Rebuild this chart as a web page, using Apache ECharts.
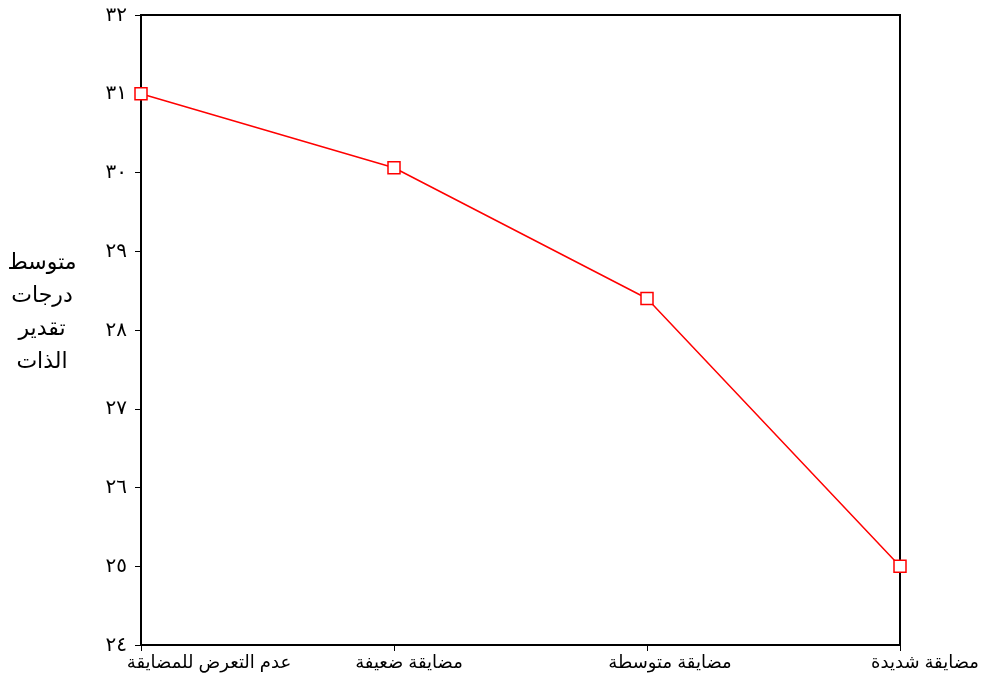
<!DOCTYPE html>
<html>
<head>
<meta charset="utf-8">
<script src="https://cdn.jsdelivr.net/npm/echarts@6/dist/echarts.min.js"></script>
<style>
html,body{margin:0;padding:0;background:#fff;}
#chart{width:986px;height:680px;}
</style>
</head>
<body>
<div id="chart"></div>
<script>
// ---- data ----
var categories = ['عدم التعرض للمضايقة', 'مضايقة ضعيفة', 'مضايقة متوسطة', 'مضايقة شديدة'];
var meanScores = [31.0, 30.06, 28.40, 25.0];
var yTickValues = [24, 25, 26, 27, 28, 29, 30, 31, 32];
var yTickLabels = ['٢٤', '٢٥', '٢٦', '٢٧', '٢٨', '٢٩', '٣٠', '٣١', '٣٢'];
var yTitle = 'متوسط\nدرجات\nتقدير\nالذات';

// ---- style ----
var labelPadLeft = [136, 30, 46, 50];
var fontFam = '"Liberation Sans", "DejaVu Sans", sans-serif';

var chart = echarts.init(document.getElementById('chart'));
var option = {
  backgroundColor: '#fff',
  animation: false,
  grid: {
    left: 141, right: 86, top: 15, bottom: 35,
    show: true, borderColor: '#000', borderWidth: 2, backgroundColor: 'transparent'
  },
  xAxis: {
    type: 'category',
    boundaryGap: false,
    data: categories.map(function (c, i) {
      return { value: c, textStyle: { padding: [0, 0, 0, labelPadLeft[i]] } };
    }),
    axisLine: { lineStyle: { color: '#000', width: 2 } },
    axisTick: { show: true, length: 6, lineStyle: { color: '#000', width: 1 } },
    axisLabel: { color: '#000', fontSize: 18, fontFamily: fontFam, margin: 9, interval: 0 },
    splitLine: { show: false }
  },
  yAxis: {
    type: 'value',
    min: yTickValues[0],
    max: yTickValues[yTickValues.length - 1],
    interval: 1,
    axisLine: { show: true, lineStyle: { color: '#000', width: 2 } },
    axisTick: { show: true, length: 6, lineStyle: { color: '#000', width: 1 } },
    axisLabel: {
      color: '#000', fontSize: 20, fontFamily: fontFam, margin: 14,
      formatter: function (v) {
        var i = yTickValues.indexOf(v);
        return i >= 0 ? yTickLabels[i] : '';
      }
    },
    splitLine: { show: false }
  },
  graphic: [{
    type: 'text',
    left: 6, top: 246,
    style: {
      text: yTitle,
      fill: '#000',
      font: '22px ' + fontFam,
      textAlign: 'center',
      lineHeight: 33,
      width: 72
    }
  }],
  series: [{
    type: 'line',
    data: meanScores,
    symbol: 'rect',
    symbolSize: 12,
    lineStyle: { color: '#ff0000', width: 1.5 },
    itemStyle: { color: '#fff', borderColor: '#ff0000', borderWidth: 1.5 }
  }]
};
chart.setOption(option);
</script>
</body>
</html>
